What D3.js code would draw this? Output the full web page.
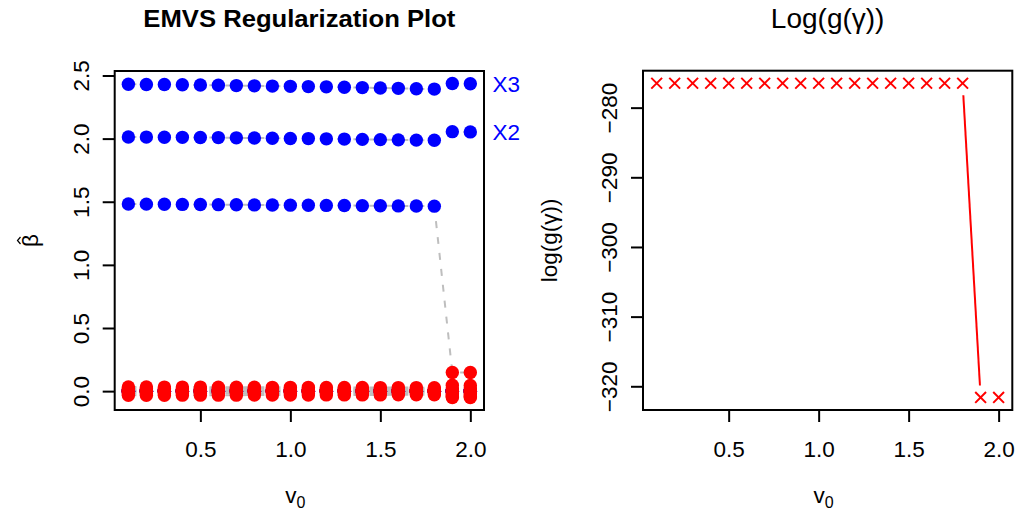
<!DOCTYPE html>
<html><head><meta charset="utf-8">
<script src="https://cdn.jsdelivr.net/npm/d3@7"></script>
<style>
body{margin:0;background:#fff}
svg{display:block}
text{font-family:"Liberation Sans",Arial,Helvetica,sans-serif}
</style>
</head><body>
<svg id="c" width="1015" height="514"></svg>
<script>
// ---------------- data ----------------
const v0s = [0.1,0.2,0.3,0.4,0.5,0.6,0.7,0.8,0.9,1.0,1.1,1.2,1.3,1.4,1.5,1.6,1.7,1.8,1.9,2.0];
const betaX1 = [1.482,1.481,1.480,1.479,1.478,1.477,1.476,1.475,1.474,1.473,1.472,1.471,1.470,1.469,1.468,1.467,1.466,1.465,0.148,0.148];
const betaX2 = [2.013,2.012,2.011,2.010,2.009,2.008,2.006,2.005,2.003,2.001,2.000,1.998,1.996,1.994,1.992,1.990,1.988,1.987,2.055,2.053];
const betaX3 = [2.430,2.429,2.428,2.426,2.424,2.422,2.420,2.418,2.416,2.414,2.412,2.410,2.407,2.404,2.401,2.398,2.395,2.392,2.436,2.435];
const betaX4 = [0.033,0.033,0.032,0.032,0.032,0.031,0.031,0.031,0.030,0.030,0.030,0.029,0.029,0.029,0.028,0.028,0.028,0.027,0.046,0.045];
const betaX5 = [0.020,0.020,0.020,0.019,0.019,0.019,0.019,0.018,0.018,0.018,0.018,0.018,0.017,0.017,0.017,0.017,0.016,0.016,0.024,0.024];
const betaX6 = [0.008,0.008,0.008,0.008,0.007,0.007,0.007,0.007,0.007,0.006,0.006,0.006,0.006,0.006,0.005,0.005,0.005,0.005,0.004,0.004];
const betaX7 = [-0.006,-0.006,-0.006,-0.006,-0.006,-0.006,-0.005,-0.005,-0.005,-0.005,-0.005,-0.005,-0.005,-0.005,-0.004,-0.004,-0.004,-0.004,-0.016,-0.016];
const betaX8 = [-0.018,-0.018,-0.018,-0.018,-0.017,-0.017,-0.017,-0.017,-0.017,-0.017,-0.016,-0.016,-0.016,-0.016,-0.016,-0.016,-0.015,-0.015,-0.030,-0.030];
const betaX9 = [-0.033,-0.033,-0.033,-0.032,-0.032,-0.032,-0.032,-0.031,-0.031,-0.031,-0.031,-0.030,-0.030,-0.030,-0.030,-0.029,-0.029,-0.029,-0.050,-0.050];
const betaX10 = [0.001,0.001,0.001,0.001,0.001,0.001,0.001,0.001,0.001,0.001,0.000,0.000,0.000,0.000,0.000,0.000,0.000,0.000,-0.040,-0.040];
const selectX1 = [1,1,1,1,1,1,1,1,1,1,1,1,1,1,1,1,1,1,0,0];
const selectAll = [1,1,1,1,1,1,1,1,1,1,1,1,1,1,1,1,1,1,1,1];
const selectNone = [0,0,0,0,0,0,0,0,0,0,0,0,0,0,0,0,0,0,0,0];
const varNames = ["X1","X2","X3","X4","X5","X6","X7","X8","X9","X10"];
const logG = [-276.5,-276.5,-276.5,-276.5,-276.5,-276.5,-276.5,-276.5,-276.5,-276.5,-276.5,-276.5,-276.5,-276.5,-276.5,-276.5,-276.5,-276.5,-321.6,-321.6];
const xTickVals = [0.5,1.0,1.5,2.0];
const yTickValsLeft = [0.0,0.5,1.0,1.5,2.0,2.5];
const yTickValsRight = [-320,-310,-300,-290,-280];
const titleLeft = "EMVS Regularization Plot";
const titleRight = "Log(g(\u03B3))";

const betas = [betaX1,betaX2,betaX3,betaX4,betaX5,betaX6,betaX7,betaX8,betaX9,betaX10];
const selects = [selectX1,selectAll,selectAll,selectNone,selectNone,selectNone,selectNone,selectNone,selectNone,selectNone];

// ---------------- helpers ----------------
const svg = d3.select("#c");
function rDomain(vals){ const e=d3.extent(vals); const d=(e[1]-e[0])*0.04; return [e[0]-d,e[1]+d]; }
const FS = 22.5;

function frame(g, x, y, xt, yt, fmtY){
  const [x0,x1]=x.range(), [y0,y1]=y.range();
  g.append("rect").attr("x",x0).attr("y",y1).attr("width",x1-x0).attr("height",y0-y1)
    .attr("fill","none").attr("stroke","#000").attr("stroke-width",2);
  const xa = d3.axisBottom(x).tickValues(xt).tickSize(12).tickPadding(0).tickFormat(d3.format(".1f"));
  const gx = g.append("g").attr("transform",`translate(0,${y0})`).call(xa);
  gx.select(".domain").remove();
  gx.selectAll(".tick line").attr("stroke","#000").attr("stroke-width",2);
  gx.selectAll(".tick text").attr("y",47).attr("dy",null).attr("font-size",FS).attr("fill","#000")
    .attr("font-family","Liberation Sans, Arial, sans-serif");
  const ya = d3.axisLeft(y).tickValues(yt).tickSize(12).tickFormat(fmtY);
  const gy = g.append("g").attr("transform",`translate(${x0},0)`).call(ya);
  gy.select(".domain").remove();
  gy.selectAll(".tick line").attr("stroke","#000").attr("stroke-width",2);
  gy.selectAll(".tick text").attr("x",null).attr("dy",null)
    .attr("transform","translate(-26,0) rotate(-90)").attr("text-anchor","middle")
    .attr("font-size",FS).attr("fill","#000").attr("font-family","Liberation Sans, Arial, sans-serif");
}
function xLabel(g, cx, y){
  const t = g.append("text").attr("x",cx).attr("y",y).attr("text-anchor","middle").attr("font-size",FS);
  t.append("tspan").text("v");
  t.append("tspan").attr("font-size",16).attr("dy",5).text("0");
}

// ---------------- left panel ----------------
const xL = d3.scaleLinear().domain(rDomain(v0s)).range([114.7,484]);
const yL = d3.scaleLinear().domain(rDomain(betas.flat())).range([410,71]);
const gL = svg.append("g");

const lineL = d3.line().x((d,i)=>xL(v0s[i])).y(d=>yL(d));
gL.append("g").selectAll("path").data(betas).join("path")
  .attr("d",lineL).attr("fill","none").attr("stroke","#BEBEBE").attr("stroke-width",2)
  .attr("stroke-dasharray","7,9").attr("stroke-dashoffset",-1);

const bluePts = [], redPts = [];
betas.forEach((b,j)=>b.forEach((v,i)=>{ bluePts.push({x:v0s[i], y:v*selects[j][i]}); }));
betas.forEach((b,j)=>b.forEach((v,i)=>{ redPts.push({x:v0s[i], y:v*(1-selects[j][i])}); }));
gL.append("g").selectAll("circle").data(bluePts).join("circle")
  .attr("cx",d=>xL(d.x)).attr("cy",d=>yL(d.y)).attr("r",6.7).attr("fill","#0000FF");
gL.append("g").selectAll("circle").data(redPts).join("circle")
  .attr("cx",d=>xL(d.x)).attr("cy",d=>yL(d.y)).attr("r",6.7).attr("fill","#FF0000");

frame(gL, xL, yL, xTickVals, yTickValsLeft, d3.format(".1f"));

const last = v0s.length-1;
const labs = varNames.map((n,j)=>({n, y:betas[j][last], s:selects[j][last]})).filter(d=>d.s===1);
gL.append("g").selectAll("text").data(labs).join("text")
  .attr("x",xL(d3.max(v0s)*1.1)).attr("y",d=>yL(d.y)).attr("dy","0.36em")
  .attr("text-anchor","middle").attr("font-size",FS).attr("fill","#0000FF").text(d=>d.n);

gL.append("text").attr("x",(114.7+484)/2).attr("y",27).attr("text-anchor","middle")
  .attr("font-size",24).attr("font-weight","bold").attr("textLength",312).attr("lengthAdjust","spacingAndGlyphs")
  .text(titleLeft);
xLabel(gL, (114.7+484)/2 - 4, 503);
const bg = gL.append("g").attr("transform",`translate(38,${(71+410)/2}) rotate(-90)`);
bg.append("text").attr("text-anchor","middle").attr("font-size",FS).text("\u03B2");
bg.append("path").attr("d","M-3.5,-17.5L0,-20.5L3.5,-17.5").attr("fill","none").attr("stroke","#000").attr("stroke-width",1.2);

// ---------------- right panel ----------------
const xR = d3.scaleLinear().domain(rDomain(v0s)).range([643,1012.3]);
const yR = d3.scaleLinear().domain(rDomain(logG)).range([410,70.7]);
const gR = svg.append("g");
const gap = 12;
const segs = [];
for(let i=0;i<v0s.length-1;i++){
  const ax=xR(v0s[i]), ay=yR(logG[i]), bx=xR(v0s[i+1]), by=yR(logG[i+1]);
  const L=Math.hypot(bx-ax,by-ay);
  if(L>2*gap){ const ux=(bx-ax)/L, uy=(by-ay)/L;
    segs.push([ax+ux*gap, ay+uy*gap, bx-ux*gap, by-uy*gap]); }
}
gR.append("g").selectAll("line").data(segs).join("line")
  .attr("x1",d=>d[0]).attr("y1",d=>d[1]).attr("x2",d=>d[2]).attr("y2",d=>d[3])
  .attr("stroke","#FF0000").attr("stroke-width",2);
const cs = 5.4;
gR.append("g").selectAll("path").data(logG).join("path")
  .attr("d",(d,i)=>{const x=xR(v0s[i]), y=yR(d);
    return `M${x-cs},${y-cs}L${x+cs},${y+cs}M${x-cs},${y+cs}L${x+cs},${y-cs}`;})
  .attr("stroke","#FF0000").attr("stroke-width",2).attr("fill","none");

frame(gR, xR, yR, xTickVals, yTickValsRight, d=>d3.format("d")(d).replace("-","\u2212"));

gR.append("text").attr("x",(643+1012.3)/2).attr("y",28).attr("text-anchor","middle")
  .attr("font-size",28).text(titleRight);
xLabel(gR, (643+1012.3)/2 - 4, 503);
gR.append("text").attr("transform",`translate(557,${(70.7+410)/2}) rotate(-90)`).attr("text-anchor","middle")
  .attr("font-size",FS).text("log(g(\u03B3))");
</script>
</body></html>
